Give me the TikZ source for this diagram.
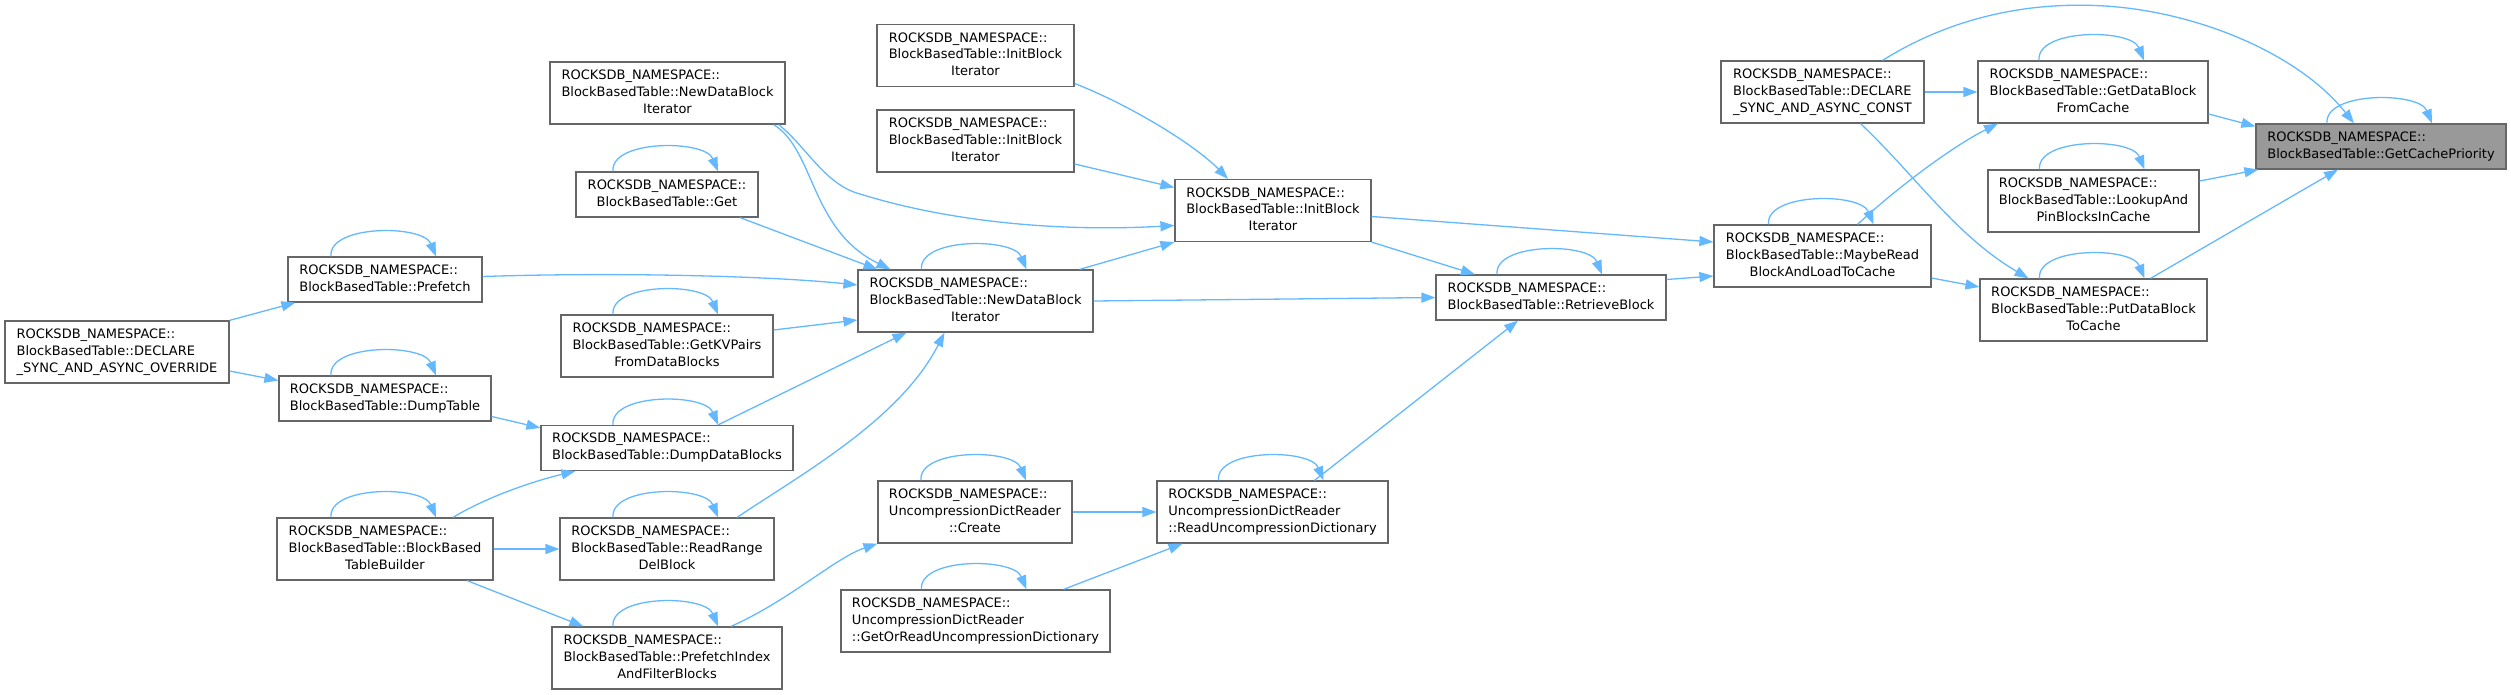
\documentclass[tikz,border=0pt]{standalone}
\usepackage{fontspec}
\setmainfont{DejaVu Sans}
\usepackage{tikz}
\usetikzlibrary{
  arrows.meta,
  positioning,
  calc
}
\definecolor{cgEdge}{HTML}{63B8FF}
\definecolor{cgLine}{HTML}{666666}
\definecolor{cgFocus}{HTML}{999999}
\newcommand{\cgNS}{ROCKSDB\_NAMESPACE::}
\newcommand{\cgtwo}[2]{\begin{tabular}{@{}l@{}}#1\\\multicolumn{1}{@{}c@{}}{#2}\end{tabular}}
\newcommand{\cgthree}[3]{\begin{tabular}{@{}l@{}}#1\\#2\\\multicolumn{1}{@{}c@{}}{#3}\end{tabular}}
\tikzset{
  cgnode/.style={
    draw=cgLine, fill=white, line width=1.2pt, inner sep=0pt,
    minimum height=62pt, font=\fontsize{13}{16.8}\selectfont
  },
  cgshort/.style={cgnode, minimum height=45pt},
  cgfocus/.style={cgshort, fill=cgFocus},
  cgcall/.style={-{Triangle[length=14pt,width=10pt]}, line width=1.3pt, draw=cgEdge}
}

\begin{document}
\begin{tikzpicture}[x=1pt, y=-1pt]
  \useasboundingbox (0,0) rectangle (2511,695);

  % callees on the right
  \node[cgfocus, minimum width=250pt] (gcp) at (2381,146.5) {\cgtwo{\cgNS}{BlockBasedTable::GetCachePriority}};
  \node[cgnode, minimum width=230pt] (gdbfc) at (2093,92) {\cgthree{\cgNS}{BlockBasedTable::GetDataBlock}{FromCache}};
  \node[cgnode, minimum width=211pt] (lookup) at (2093.5,201) {\cgthree{\cgNS}{BlockBasedTable::LookupAnd}{PinBlocksInCache}};
  \node[cgnode, minimum width=227pt] (putdb) at (2093.5,310) {\cgthree{\cgNS}{BlockBasedTable::PutDataBlock}{ToCache}};
  \node[cgnode, minimum width=203pt] (dconst) at (1822.5,92) {\cgthree{\cgNS}{BlockBasedTable::DECLARE}{\_SYNC\_AND\_ASYNC\_CONST}};
  \node[cgnode, minimum width=217pt] (maybe) at (1822.5,256) {\cgthree{\cgNS}{BlockBasedTable::MaybeRead}{BlockAndLoadToCache}};
  \node[cgnode, minimum width=196pt] (initit) at (1273,210.5) {\cgthree{\cgNS}{BlockBasedTable::InitBlock}{Iterator}};
  \node[cgshort, minimum width=230pt] (retrieve) at (1551,297.5) {\cgtwo{\cgNS}{BlockBasedTable::RetrieveBlock}};
  \node[cgnode, minimum width=231pt] (readud) at (1272.5,512) {\cgthree{\cgNS}{UncompressionDictReader}{::ReadUncompressionDictionary}};

  % middle column
  \node[cgnode, minimum width=197pt] (init1) at (975.5,55.5) {\cgthree{\cgNS}{BlockBasedTable::InitBlock}{Iterator}};
  \node[cgnode, minimum width=197pt] (init2) at (975.5,141) {\cgthree{\cgNS}{BlockBasedTable::InitBlock}{Iterator}};
  \node[cgnode, minimum width=235pt] (ndbi) at (975.5,301) {\cgthree{\cgNS}{BlockBasedTable::NewDataBlock}{Iterator}};
  \node[cgnode, minimum width=194pt] (create) at (975,512) {\cgthree{\cgNS}{UncompressionDictReader}{::Create}};
  \node[cgnode, minimum width=269pt] (getorread) at (975.5,621) {\cgthree{\cgNS}{UncompressionDictReader}{::GetOrReadUncompressionDictionary}};

  % callers on the left
  \node[cgnode, minimum width=235pt] (nd1) at (667.5,93) {\cgthree{\cgNS}{BlockBasedTable::NewDataBlock}{Iterator}};
  \node[cgshort, minimum width=182pt] (get) at (667,194.5) {\cgtwo{\cgNS}{BlockBasedTable::Get}};
  \node[cgnode, minimum width=212pt] (kv) at (667,346) {\cgthree{\cgNS}{BlockBasedTable::GetKVPairs}{FromDataBlocks}};
  \node[cgshort, minimum width=252pt] (dumpdb) at (667,448) {\cgtwo{\cgNS}{BlockBasedTable::DumpDataBlocks}};
  \node[cgnode, minimum width=214pt] (readrange) at (667,549) {\cgthree{\cgNS}{BlockBasedTable::ReadRange}{DelBlock}};
  \node[cgnode, minimum width=230pt] (prefidx) at (667,658) {\cgthree{\cgNS}{BlockBasedTable::PrefetchIndex}{AndFilterBlocks}};
  \node[cgshort, minimum width=194pt] (prefetch) at (385,279.5) {\cgtwo{\cgNS}{BlockBasedTable::Prefetch}};
  \node[cgshort, minimum width=212pt] (dumptable) at (385,398.5) {\cgtwo{\cgNS}{BlockBasedTable::DumpTable}};
  \node[cgnode, minimum width=216pt] (builder) at (385,549) {\cgthree{\cgNS}{BlockBasedTable::BlockBased}{TableBuilder}};
  \node[cgnode, minimum width=224pt] (doverride) at (117,352) {\cgthree{\cgNS}{BlockBasedTable::DECLARE}{\_SYNC\_AND\_ASYNC\_OVERRIDE}};

  % calls
  \draw[cgcall] ([yshift=-22pt]gdbfc.east) -- ([yshift=-3pt]gcp.north west);
  \draw[cgcall] ([yshift=20pt]lookup.east) -- ([xshift=3pt]gcp.south west);
  \draw[cgcall] ([xshift=57pt]putdb.north) -- ([xshift=-43pt]gcp.south);
  \draw[cgcall] ([xshift=60pt]dconst.north) .. controls (1960,12) and (2040,2) .. (2105,6)
    .. controls (2200,12) and (2300,55) .. ([xshift=-27pt]gcp.north);
  \draw[cgcall] (dconst.east) -- (gdbfc.west);
  \draw[cgcall] ([xshift=35pt]maybe.north) .. controls (1900,185) and (1955,145) .. ([xshift=-95pt]gdbfc.south);
  \draw[cgcall] ([xshift=38pt]dconst.south) .. controls (1915,175) and (1955,235) .. ([xshift=-65pt]putdb.north);
  \draw[cgcall] ([yshift=-22pt]maybe.east) -- ([yshift=23pt]putdb.west);
  \draw[cgcall] ([yshift=-6pt]initit.east) -- ([yshift=14pt]maybe.west);
  \draw[cgcall] ([yshift=18pt]retrieve.east) -- ([yshift=-20pt]maybe.west);
  \draw[cgcall] (initit.south east) -- ([xshift=-76pt]retrieve.north);
  \draw[cgcall] (ndbi.east) -- (retrieve.west);
  \draw[cgcall] ([xshift=42pt]readud.north) -- ([xshift=-33pt]retrieve.south);
  \draw[cgcall] ([yshift=-28pt]init1.east) .. controls (1130,105) and (1195,145) .. ([xshift=-45pt]initit.north);
  \draw[cgcall] ([yshift=-23pt]init2.east) -- ([yshift=23pt]initit.west);
  \draw[cgcall] ([xshift=-7pt]nd1.south east) .. controls (805,145) and (825,185) .. (860,194)
    .. controls (950,222) and (1060,232) .. ([yshift=-15pt]initit.west);
  \draw[cgcall] ([xshift=-12pt]nd1.south east) .. controls (815,150) and (810,230) .. ([xshift=-85pt]ndbi.north);
  \draw[cgcall] ([xshift=73pt]get.south) -- ([xshift=-98pt]ndbi.north);
  \draw[cgcall] ([yshift=3pt]prefetch.east) .. controls (620,272) and (770,276) .. ([yshift=16pt]ndbi.west);
  \draw[cgcall] ([yshift=16pt]kv.east) -- ([yshift=-19pt]ndbi.west);
  \draw[cgcall] ([xshift=51pt]dumpdb.north) -- ([xshift=-69pt]ndbi.south);
  \draw[cgcall] ([xshift=70pt]readrange.north) .. controls (800,475) and (900,420) .. ([xshift=-31pt]ndbi.south);
  \draw[cgcall] ([xshift=104pt]ndbi.north) -- (initit.south west);
  \draw[cgcall] (create.east) -- (readud.west);
  \draw[cgcall] ([xshift=88pt]getorread.north) -- ([xshift=-90pt]readud.south);
  \draw[cgcall] ([xshift=64pt]prefidx.north) .. controls (790,600) and (835,558) .. (create.south west);
  \draw[cgcall] (doverride.north east) -- ([xshift=8pt]prefetch.south west);
  \draw[cgcall] ([yshift=-19pt]doverride.east) -- ([yshift=18pt]dumptable.west);
  \draw[cgcall] ([yshift=-18pt]dumptable.east) -- ([yshift=-3pt]dumpdb.north west);
  \draw[cgcall] ([xshift=68pt]builder.north) .. controls (485,498) and (530,482) .. ([xshift=35pt]dumpdb.south west);
  \draw[cgcall] (builder.east) -- (readrange.west);
  \draw[cgcall] ([xshift=82pt]builder.south) -- ([xshift=32pt]prefidx.north west);

  % recursive calls
  \foreach \n in {gcp, gdbfc, lookup, putdb, maybe, retrieve, ndbi, create, readud, getorread,
                  get, kv, dumpdb, readrange, prefidx, prefetch, dumptable, builder}
    \draw[cgcall] ([xshift=-54pt]\n.north) .. controls ([xshift=-57pt,yshift=32pt]\n.north)
      and ([xshift=38pt,yshift=32pt]\n.north) .. ([xshift=51pt]\n.north);
\end{tikzpicture}
\end{document}
